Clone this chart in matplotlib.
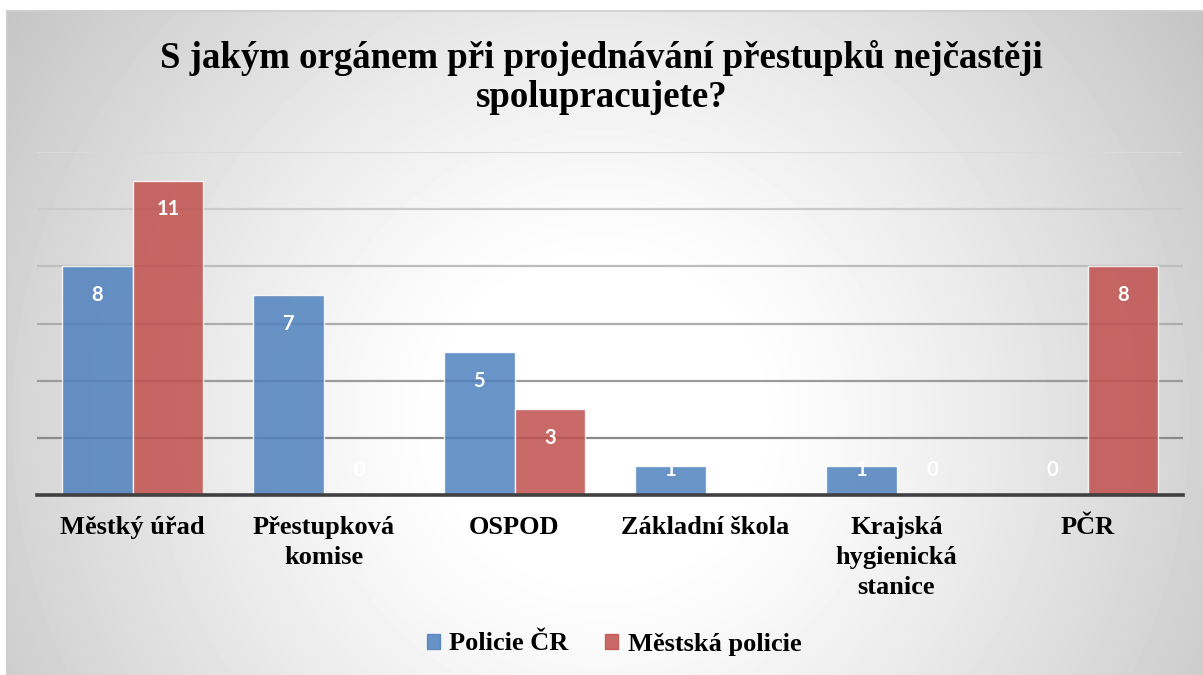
import numpy as np
import matplotlib; matplotlib.use("Agg")
import matplotlib.pyplot as plt
from matplotlib.patches import Patch, Rectangle

# ── data ──────────────────────────────────────────────────────────────────────
categories = ["Městký úřad", "Přestupková\nkomise", "OSPOD", "Základní škola",
              "Krajská\nhygienická\nstanice", "PČR"]
policie_cr = [8, 7, 5, 1, 1, 0]
mestska_policie = [11, 0, 3, np.nan, 0, 8]   # Základní škola: bez hodnoty
series_names = ["Policie ČR", "Městská policie"]
title = "S jakým orgánem při projednávání přestupků nejčastěji\nspolupracujete?"

SERIF = ["Liberation Serif", "DejaVu Serif"]
SANS = ["Lato", "DejaVu Sans"]
BLUE, RED = "#4F81BD", "#C0504D"

W, H = 1203, 675
fig = plt.figure(figsize=(W / 100, H / 100), dpi=100)

# ── radial gradient background ────────────────────────────────────────────────
yy, xx = np.mgrid[0:H, 0:W]
d = np.hypot(xx - 600, yy - 420)
bg = 1 - 0.23 * np.clip((d - 150) / 570, 0, 1) ** 1.2
bg[:10, :] = 1.0
bg[:, :6] = 1.0
bax = fig.add_axes([0, 0, 1, 1])
bax.imshow(bg, cmap="gray", vmin=0, vmax=1, aspect="auto", interpolation="bilinear")
bax.add_patch(Rectangle((6, 10), W, H, fill=False, edgecolor="#cfcfcf", lw=1.2))
bax.set_axis_off()

# ── bars ──────────────────────────────────────────────────────────────────────
ax = fig.add_axes([37 / W, 180 / H, 1146 / W, 343 / H])
ax.patch.set_alpha(0)
x = np.arange(len(categories))
bw = 0.37
ax.set_xlim(-0.5, len(categories) - 0.5)
ax.set_ylim(0, 12)

grid_cols = ["#8a8a8a", "#9b9b9b", "#acacac", "#bdbdbd", "#cbcbcb", "#dadada"]
for lvl, c in zip(range(2, 13, 2), grid_cols):
    ax.axhline(lvl, color=c, lw=1.6, zorder=1)

for off, vals, col in [(-bw / 2, policie_cr, BLUE), (bw / 2, mestska_policie, RED)]:
    h = np.nan_to_num(np.array(vals, dtype=float))
    ax.bar(x + off, h, bw, color=col, alpha=0.85, edgecolor=(1, 1, 1, 0.6),
           lw=1, zorder=2)
    for xi, v in zip(x + off, vals):
        if np.isnan(v):
            continue
        ax.text(xi, max(v - 1.0, 0.88), f"{v:g}", ha="center", va="center",
                color="white", fontsize=14.5, fontweight="bold", family=SANS, zorder=3)

ax.axhline(0, color="#404040", lw=2.6, zorder=4, clip_on=False)

for s in ax.spines.values():
    s.set_visible(False)
ax.set_yticks([])
ax.set_xticks(x)
ax.set_xticklabels(categories, family=SERIF, fontweight="bold", fontsize=19,
                   linespacing=1.4)
ax.tick_params(axis="x", length=0, pad=15)

fig.text(0.5, (H - 77.5) / H, title, ha="center", va="center", family=SERIF,
         fontweight="bold", fontsize=26.5, linespacing=1.15)

handles = [Patch(color=BLUE, alpha=0.85), Patch(color=RED, alpha=0.85)]
fig.legend(handles, series_names, loc="center", bbox_to_anchor=(614 / W, (H - 644) / H),
           ncol=2, frameon=False, handlelength=0.5, handleheight=0.5,
           handletextpad=0.35, columnspacing=1.4,
           prop=dict(family=SERIF, weight="bold", size=19))

fig.savefig("out.png", dpi=100)
plt.close()
